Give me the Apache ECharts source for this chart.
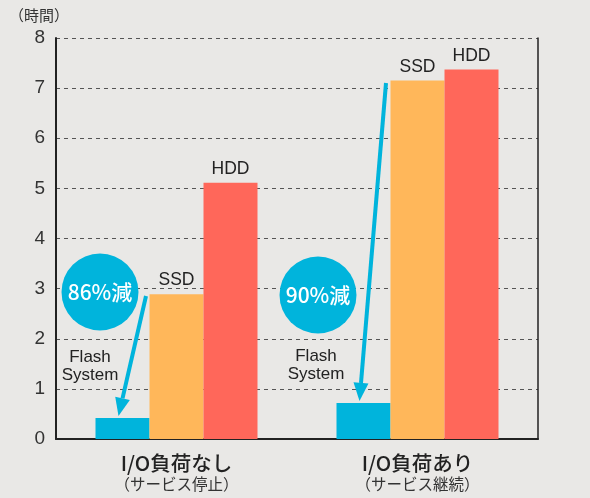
<!DOCTYPE html>
<html>
<head>
<meta charset="utf-8">
<script src="https://cdn.jsdelivr.net/npm/echarts@6/dist/echarts.min.js"></script>
<style>
  html, body { margin: 0; padding: 0; background: #e9e8e6; }
  #main { width: 590px; height: 498px; }
</style>
</head>
<body>
<div id="main"></div>
<script>
// data ........................................
var categories = ['I/O負荷なし', 'I/O負荷あり'];
var subLabels = ['（サービス停止）', '（サービス継続）'];
var flashSystem = [0.42, 0.72];
var ssd = [2.89, 7.15];
var hdd = [5.11, 7.37];
var yTicks = [0, 8, 1]; // min, max, interval
var reductions = ['86%減', '90%減'];

var BLUE = '#00b4dc';
var FONT = "'Liberation Sans', 'Noto Sans CJK JP', sans-serif";

var chart = echarts.init(document.getElementById('main'));

function barSeries(name, data, color, labelText) {
    return {
        name: name,
        type: 'bar',
        data: data,
        barWidth: 54,
        barGap: '0%',
        itemStyle: {color: color},
        label: {
            show: !!labelText,
            position: 'top',
            distance: 5,
            formatter: labelText || '',
            color: '#222',
            fontSize: 17.5,
            fontFamily: FONT
        },
        silent: true
    };
}

chart.setOption({
    backgroundColor: '#e9e8e6',
    animation: false,
    title: {
        text: '（時間）',
        left: 4,
        top: 3,
        textStyle: {fontSize: 15, fontWeight: 'normal', color: '#333', fontFamily: "'Noto Sans CJK JP'"}
    },
    grid: {left: 56, right: 52, top: 38, bottom: 59},
    xAxis: {
        type: 'category',
        data: categories,
        axisLine: {lineStyle: {color: '#222', width: 2}},
        axisTick: {show: false},
        axisLabel: {
            margin: 12,
            formatter: function (v, i) {
                return '{a|' + v + '}\n{b|' + subLabels[i] + '}';
            },
            rich: {
                a: {fontSize: 20.5, fontWeight: 500, color: '#222', fontFamily: "'Noto Sans CJK JP'", lineHeight: 24},
                b: {fontSize: 15.5, color: '#333', fontFamily: "'Noto Sans CJK JP'", lineHeight: 18}
            }
        }
    },
    yAxis: [{
        type: 'value',
        min: yTicks[0],
        max: yTicks[1],
        interval: yTicks[2],
        axisLine: {show: true, lineStyle: {color: '#222', width: 2}},
        axisTick: {show: false},
        axisLabel: {fontSize: 19, color: '#333', margin: 11, fontFamily: FONT},
        splitLine: {lineStyle: {color: '#555', type: [4, 4], width: 1}}
    }, {
        type: 'value',
        position: 'right',
        min: yTicks[0],
        max: yTicks[1],
        interval: yTicks[2],
        axisLine: {show: true, lineStyle: {color: '#222', width: 1.5}},
        axisTick: {show: false},
        axisLabel: {show: false},
        splitLine: {show: false}
    }],
    series: [
        barSeries('Flash System', flashSystem, BLUE, null),
        barSeries('SSD', ssd, '#ffb75a', 'SSD'),
        barSeries('HDD', hdd, '#ff675a', 'HDD')
    ]
});

//annotations: circles, arrows, "Flash System" text
function arrow(x1, y1, x2, y2) {
    var dx = x2 - x1, dy = y2 - y1;
    var len = Math.sqrt(dx * dx + dy * dy);
    var ux = dx / len, uy = dy / len;
    var hl = 18, hw = 7.5;
    var bx = x2 - ux * hl, by = y2 - uy * hl;
    return [{
        type: 'line',
        shape: {x1: x1, y1: y1, x2: bx, y2: by},
        style: {stroke: BLUE, lineWidth: 4}
    }, {
        type: 'polygon',
        shape: {points: [[x2, y2], [bx - uy * hw, by + ux * hw], [bx + uy * hw, by - ux * hw]]},
        style: {fill: BLUE}
    }];
}

var blueLayout = chart.getModel().getSeriesByIndex(0).getData();
var graphics = [];
var circles = [[100, 292], [318, 295]];
var arrowStarts = [[146, 296], [386, 83]];
var textPos = [[90, 366], [316, 365]];
for (var i = 0; i < categories.length; i++) {
    var lay = blueLayout.getItemLayout(i);
    var tipX = lay.x + lay.width / 2 - 4;
    var tipY = lay.y + lay.height - 2;
    graphics = graphics.concat(arrow(arrowStarts[i][0], arrowStarts[i][1], tipX, tipY));
    graphics.push({
        type: 'circle',
        shape: {cx: circles[i][0], cy: circles[i][1], r: 38.5},
        style: {fill: BLUE}
    });
    graphics.push({
        type: 'text',
        x: circles[i][0],
        y: circles[i][1],
        style: {
            text: reductions[i],
            fill: '#fff',
            fontSize: 21,
            fontWeight: 500,
            fontFamily: "'Noto Sans CJK JP'",
            align: 'center',
            verticalAlign: 'middle'
        }
    });
    graphics.push({
        type: 'text',
        x: textPos[i][0],
        y: textPos[i][1],
        style: {
            text: 'Flash\nSystem',
            fill: '#222',
            fontSize: 17,
            lineHeight: 18,
            fontFamily: FONT,
            align: 'center',
            verticalAlign: 'middle'
        }
    });
}
chart.setOption({graphic: graphics});
</script>
</body>
</html>
